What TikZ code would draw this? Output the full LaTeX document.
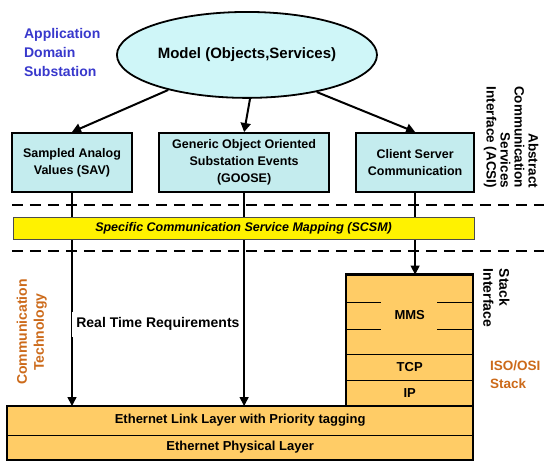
\documentclass[tikz,border=0pt]{standalone}
\usepackage{fontspec}
\setmainfont{Liberation Sans}
\usetikzlibrary{shapes.geometric, positioning, arrows.meta}

\definecolor{ellipsefill}{HTML}{CFF6F8}
\definecolor{cyanfill}{HTML}{C4ECEE}
\definecolor{stackfill}{HTML}{FFCC66}
\definecolor{domainblue}{HTML}{3838CC}
\definecolor{techorange}{HTML}{CC6A1A}

\begin{document}
\begin{tikzpicture}[
    font=\bfseries,
    % Styles
    model_ellipse/.style={
        draw,
        ellipse,
        line width=1.8pt,
        fill=ellipsefill,
        inner sep=0pt,
        minimum width=9.14cm,
        minimum height=3.02cm,
        font=\fontsize{15}{18}\selectfont\bfseries
    },
    service_box/.style={
        draw,
        rectangle,
        line width=2pt,
        fill=cyanfill,
        minimum height=2.07cm,
        align=center,
        font=\fontsize{12.5}{17}\selectfont\bfseries
    },
    mapping_bar/.style={
        draw=black!70,
        line width=0.6pt,
        fill=yellow,
        minimum width=16.2cm,
        minimum height=0.77cm,
        font=\fontsize{12.5}{15}\selectfont\bfseries\itshape
    },
    layer/.style={
        draw,
        line width=0.9pt,
        fill=stackfill,
        outer sep=0pt,
        font=\fontsize{13}{15}\selectfont\bfseries
    },
    sep_line/.style={line width=2pt, dash pattern=on 11pt off 7pt},
    arrow/.style={-{Triangle[length=9pt, width=10pt]}, line width=2pt},
    feed/.style={-{Triangle[length=9pt, width=9pt]}, line width=1.5pt},
    side_label/.style={inner sep=0pt, font=\fontsize{14}{15}\selectfont\bfseries}
]
    \useasboundingbox (0,0) rectangle (19.12,-16.24);

    % --- Title / model ---
    \node[model_ellipse] (model) at (8.68,-1.93) {Model (Objects,Services)};
    \node[side_label, text=domainblue, align=left, anchor=west,
          font=\fontsize{14}{19}\selectfont\bfseries] (domain) at (0.84,-1.86)
          {Application\\Domain\\Substation};

    % --- ACSI SERVICES ---
    \node[service_box, minimum width=4.22cm] (sav) at (2.53,-5.71) {Sampled Analog\\Values (SAV)};
    \node[service_box, minimum width=5.97cm] (goose) at (8.58,-5.71) {Generic Object Oriented\\Substation Events\\(GOOSE)};
    \node[service_box, minimum width=4.15cm] (cs) at (14.59,-5.71) {Client Server\\Communication};

    \node[side_label, rotate=-90, align=right, font=\fontsize{13.5}{14}\selectfont\bfseries] (acsi) at (17.96,-4.82)
          {Abstract\\Communication\\Services\\Interface (ACSI)};

    % --- ETHERNET ---
    \node[layer, minimum width=16.38cm, minimum height=1.02cm] (eth_link) at (8.44,-14.78)
          {Ethernet Link Layer with Priority tagging};
    \node[layer, minimum width=16.38cm, minimum height=0.88cm, below=0cm of eth_link] (eth_phys)
          {Ethernet Physical Layer};

    % --- ISO/OSI STACK ---
    \node[layer, minimum width=4.46cm, minimum height=0.9cm, above left=0cm and 0cm of eth_link.north east] (ip) {IP};
    \node[layer, minimum width=4.46cm, minimum height=0.91cm, above=0cm of ip] (tcp) {TCP};
    \node[layer, minimum width=4.46cm, minimum height=2.81cm, above=0cm of tcp] (mms) {MMS};

    \draw[line width=0.9pt] ([yshift=-0.98cm]mms.north west) -- ++(1.23,0);
    \draw[line width=0.9pt] ([yshift=-1.93cm]mms.north west) -- ++(1.23,0);
    \draw[line width=0.9pt] ([yshift=-0.98cm]mms.north east) -- ++(-1.27,0);
    \draw[line width=0.9pt] ([yshift=-1.93cm]mms.north east) -- ++(-1.27,0);

    \draw[line width=2.4pt] (mms.north west) rectangle (ip.south east);
    \draw[line width=2.4pt] (eth_link.north west) rectangle (eth_phys.south east);

    \node[side_label, rotate=-90, align=left, font=\fontsize{14}{16}\selectfont\bfseries] (stack_if) at (17.45,-10.47)
          {Stack\\Interface};
    \node[side_label, text=techorange, align=left, anchor=west,
          font=\fontsize{13.5}{18}\selectfont\bfseries] (iso) at (17.22,-13.18) {ISO/OSI\\Stack};
    \node[side_label, text=techorange, rotate=90, align=center,
          font=\fontsize{14}{17}\selectfont\bfseries] (tech) at (1.12,-11.67) {Communication\\Technology};

    % --- ARROWS ---
    \draw[arrow] (model.204) -- (sav.north);
    \draw[arrow] (model.274) -- (goose.north);
    \draw[arrow] (model.332) -- (cs.north);

    \draw[feed] (sav.south) -- (sav.south |- eth_link.north);
    \draw[feed] (goose.south) -- (goose.south |- eth_link.north);
    \draw[feed] (cs.south) -- (cs.south |- mms.north);

    % --- MAPPING ---
    \draw[sep_line] (0.42,-7.20) -- (19.12,-7.20);
    \draw[sep_line] (0.42,-8.82) -- (19.12,-8.82);
    \node[mapping_bar] (scsm) at (8.56,-8.01) {Specific Communication Service Mapping (SCSM)};

    \node[fill=white, inner xsep=4pt, inner ysep=6pt, font=\fontsize{14}{16}\selectfont\bfseries] (rtr)
          at (5.55,-11.39) {Real Time Requirements};

\end{tikzpicture}
\end{document}
